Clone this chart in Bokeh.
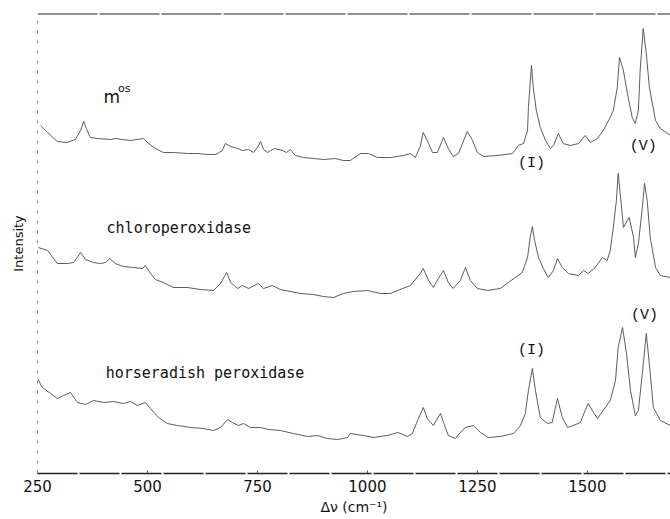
from bokeh.plotting import figure
from bokeh.models import Range1d, FixedTicker, Span
from bokeh.core.properties import value
from bokeh.embed import file_html
from bokeh.resources import INLINE

# Raman shift (cm^-1) and intensity (arbitrary units, traces stacked)
mos_wn = [257, 273, 295, 318, 336, 348, 355, 361, 370, 386, 416, 427, 443, 461, 477, 491, 500, 514,
          536, 559, 591, 614, 636, 655, 670, 677, 689, 705, 716, 730, 741, 750, 757, 764, 773, 780,
          789, 807, 816, 825, 836, 855, 877, 900, 927, 945, 961, 984, 1002, 1023, 1052, 1082, 1098,
          1109, 1120, 1127, 1136, 1148, 1159, 1173, 1184, 1195, 1207, 1227, 1239, 1250, 1264, 1295,
          1330, 1343, 1355, 1364, 1366, 1373, 1377, 1384, 1393, 1405, 1416, 1423, 1434, 1445, 1461,
          1480, 1495, 1507, 1523, 1536, 1552, 1559, 1568, 1573, 1582, 1591, 1602, 1609, 1616, 1620,
          1627, 1634, 1641, 1655, 1666, 1689]
mos_int = [348, 341, 332, 331, 334, 343, 352, 345, 336, 335, 334, 335, 334, 333, 334, 335, 331, 326,
           321, 321, 320, 320, 319, 319, 323, 330, 327, 325, 323, 324, 321, 326, 332, 324, 321, 323,
           325, 323, 321, 324, 318, 316, 315, 314, 315, 313, 313, 320, 320, 316, 316, 318, 320,
           316, 327, 341, 333, 321, 321, 336, 325, 317, 320, 342, 333, 321, 317, 318,
           320, 328, 330, 343, 366, 408, 386, 363, 346, 333, 325, 328, 340, 330, 328,
           330, 338, 331, 335, 343, 356, 363, 386, 416, 403, 380, 356, 350, 363, 403,
           445, 420, 386, 353, 345, 338]

cpo_wn = [252, 273, 295, 318, 332, 348, 359, 377, 393, 405, 414, 427, 445, 468, 489, 495, 507, 518,
          536, 559, 591, 620, 650, 666, 680, 689, 705, 716, 730, 752, 764, 784, 802, 825, 848, 877,
          900, 923, 945, 968, 1000, 1030, 1052, 1080, 1098, 1120, 1127, 1139, 1150, 1161, 1173,
          1184, 1195, 1211, 1223, 1234, 1250, 1273, 1302, 1336, 1352, 1364, 1370, 1375, 1380, 1389,
          1400, 1411, 1423, 1432, 1443, 1457, 1480, 1491, 1502, 1518, 1534, 1545, 1552, 1559, 1566,
          1570, 1577, 1582, 1591, 1595, 1605, 1609, 1616, 1625, 1630, 1636, 1643, 1655, 1666, 1689]
cpo_int = [226, 223, 210, 210, 211, 221, 214, 211, 210, 211, 215, 210, 207, 206, 205, 208, 200, 194,
           191, 186, 186, 184, 183, 190, 201, 191, 185, 188, 185, 190, 185, 188, 184, 182, 180, 179,
           177, 176, 180, 182, 183, 180, 180, 185, 188, 200, 205, 193, 186, 195, 203,
           191, 185, 193, 206, 193, 185, 183, 185, 196, 201, 216, 236, 247, 233, 216,
           205, 196, 203, 215, 206, 200, 198, 203, 200, 206, 216, 213, 223, 246, 273,
           300, 270, 246, 253, 256, 236, 216, 230, 266, 290, 273, 236, 206, 198, 196]

hrp_wn = [250, 261, 280, 295, 309, 325, 341, 359, 377, 400, 423, 445, 461, 477, 495, 507, 525, 545,
          568, 598, 627, 650, 666, 682, 693, 707, 718, 734, 757, 775, 802, 832, 864, 886, 909, 932,
          955, 961, 991, 1014, 1045, 1070, 1091, 1102, 1114, 1127, 1136, 1150, 1166, 1173, 1184,
          1200, 1211, 1223, 1241, 1257, 1275, 1302, 1332, 1348, 1359, 1366, 1375, 1382, 1393, 1409,
          1420, 1432, 1443, 1455, 1468, 1484, 1495, 1502, 1514, 1523, 1536, 1552, 1564, 1570, 1580,
          1589, 1598, 1609, 1616, 1625, 1634, 1643, 1650, 1666, 1689]
hrp_int = [95, 86, 80, 75, 78, 81, 71, 69, 73, 71, 72, 70, 72, 68, 71, 65, 56, 50,
           48, 46, 45, 43, 46, 54, 51, 48, 50, 46, 46, 44, 43, 40, 37, 38, 35, 34,
           36, 40, 38, 36, 38, 41, 37, 40, 53, 66, 55, 48, 60, 51, 38,
           35, 41, 46, 48, 41, 36, 37, 40, 48, 60, 83, 105, 83, 56, 50,
           51, 75, 56, 46, 48, 51, 63, 70, 61, 55, 63, 73, 93, 126, 146,
           120, 83, 58, 63, 100, 140, 100, 66, 53, 48]

x_ticks = [250, 500, 750, 1000, 1250, 1500]
trace_names = ["chloroperoxidase", "horseradish peroxidase"]

FONT = "DejaVu Sans"
WIDE = "DejaVu Sans Mono"
MONO = "Liberation Mono"

p = figure(width=670, height=519, output_backend="svg", toolbar_location=None,
           x_range=Range1d(250, 1689), y_range=Range1d(0, 460),
           min_border_left=37, min_border_right=0, min_border_top=13, min_border_bottom=46)
p.background_fill_color = "white"
p.border_fill_color = "white"
p.outline_line_color = None
p.xgrid.grid_line_color = None
p.ygrid.grid_line_color = None

for wn, inten in [(mos_wn, mos_int), (cpo_wn, cpo_int), (hrp_wn, hrp_int)]:
    p.line(wn, inten, line_color="#4a4a4a", line_width=0.9)

# x axis
p.xaxis.ticker = FixedTicker(ticks=x_ticks)
p.xaxis.axis_line_color = "#222222"
p.xaxis.axis_line_width = 1.5
p.xaxis.axis_line_dash = "40 2"
p.xaxis.major_tick_in = 3
p.xaxis.major_tick_out = 0
p.xaxis.major_tick_line_color = "#555555"
p.xaxis.minor_tick_line_color = None
p.xaxis.major_label_text_font = FONT
p.xaxis.major_label_text_font_size = "15px"
p.xaxis.major_label_text_color = "#111111"
p.xaxis.major_label_standoff = 6
p.xaxis.axis_label = "\u0394\u03bd (cm\u207b\u00b9)"
p.xaxis.axis_label_text_font = FONT
p.xaxis.axis_label_text_font_size = "14px"
p.xaxis.axis_label_text_font_style = "normal"
p.xaxis.axis_label_text_color = "#111111"
p.xaxis.axis_label_standoff = 4

# y axis: line and title only
p.yaxis.ticker = FixedTicker(ticks=[])
p.yaxis.axis_line_color = "#888888"
p.yaxis.axis_line_dash = "3 7"
p.yaxis.major_tick_line_color = None
p.yaxis.minor_tick_line_color = None
p.yaxis.major_label_standoff = 0
p.yaxis.axis_label = "Intensity"
p.yaxis.axis_label_text_font = FONT
p.yaxis.axis_label_text_font_size = "13px"
p.yaxis.axis_label_text_font_style = "normal"
p.yaxis.axis_label_text_color = "#111111"
p.yaxis.axis_label_standoff = 12

# top frame line
p.add_layout(Span(location=460, dimension="width", line_color="#222222", line_width=2,
                  line_dash="60 2"))

# trace names
p.text(x=[400], y=[377], text=["m"], text_font=value(FONT), text_font_size="17px",
       text_color="#111111", text_align="left", text_baseline="alphabetic")
p.text(x=[433], y=[385], text=["os"], text_font=value(FONT), text_font_size="11px",
       text_color="#111111", text_align="left", text_baseline="alphabetic")
p.text(x=[407], y=[246], text=[trace_names[0]], text_font=value(WIDE), text_font_size="15px",
       text_color="#111111", text_align="left", text_baseline="alphabetic")
p.text(x=[405], y=[101], text=[trace_names[1]], text_font=value(WIDE), text_font_size="15px",
       text_color="#111111", text_align="left", text_baseline="alphabetic")

# band labels
p.text(x=[1373, 1627, 1373, 1630], y=[310, 327, 123, 158],
       text=["(I)", "(V)", "(I)", "(V)"], text_font=value(MONO), text_font_size="15px",
       text_color="#111111", text_align="center", text_baseline="middle")

open("out.html", "w").write(file_html(p, INLINE))
